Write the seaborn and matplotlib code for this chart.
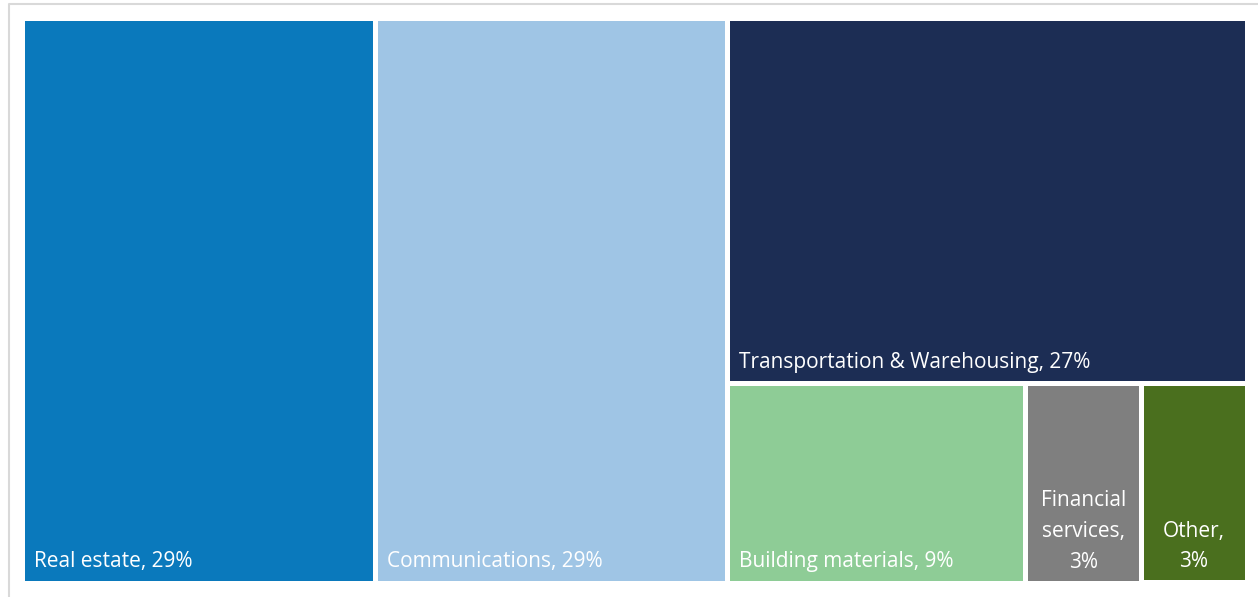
import matplotlib.pyplot as plt
import matplotlib.patches as mpatches
import matplotlib.lines as mlines
import pandas as pd
import seaborn as sns

# shares of the total
sectors = ["Real estate", "Communications", "Transportation & Warehousing",
           "Building materials", "Financial services", "Other"]
shares = [28.6, 28.4, 27.2, 8.5, 3.3, 3.0]
labels = ["29%", "29%", "27%", "9%", "3%", "3%"]
colors = ["#0a79bc", "#9fc5e5", "#1c2d54", "#8ecc96", "#7f7f7f", "#4a6f1e"]
# how the labels wrap inside the narrow cells
wrapped = ["Real estate, 29%", "Communications, 29%", "Transportation & Warehousing, 27%",
           "Building materials, 9%", "Financial\nservices,\n3%", "Other,\n3%"]

df = pd.DataFrame({"sector": sectors, "share": shares, "pct": labels,
                   "color": colors, "text": wrapped})


def worst(row, side):
    s = sum(row)
    return max(max(side * side * r / (s * s), s * s / (side * side * r)) for r in row)


def squarify(values, x, y, w, h):
    # classic squarified treemap, values already scaled to area w*h
    rects = []
    values = list(values)
    while values:
        side = min(w, h)
        row = [values.pop(0)]
        while values and worst(row + [values[0]], side) <= worst(row, side):
            row.append(values.pop(0))
        s = sum(row)
        if w >= h:
            cw = s / h
            cy = y
            for r in row:
                rects.append((x, cy, cw, r / cw))
                cy += r / cw
            x += cw
            w -= cw
        else:
            ch = s / w
            cx = x
            for r in row:
                rects.append((cx, y, r / ch, ch))
                cx += r / ch
            y += ch
            h -= ch
    return rects


W, H = 1225.0, 565.0
total = df["share"].sum()
areas = [v / total * W * H for v in df["share"]]
rects = squarify(areas, 0, 0, W, H)

sns.set_theme(style="white")
plt.rcParams["font.family"] = ["Open Sans", "DejaVu Sans"]

fig = plt.figure(figsize=(12.58, 5.97), dpi=100)
# light grey chart frame (left and top edges only show)
fig.lines.append(mlines.Line2D([8.5 / 1258, 8.5 / 1258, 1.0], [0.0, 1 - 3.5 / 597, 1 - 3.5 / 597],
                               transform=fig.transFigure, color="#d9d9d9", linewidth=1.5))
ax = fig.add_axes([21.5 / 1258, 1 - 582.5 / 597, 1225 / 1258, 565 / 597])
ax.set_xlim(0, W)
ax.set_ylim(H, 0)
ax.axis("off")

for (x, y, w, h), row in zip(rects, df.itertuples()):
    ax.add_patch(mpatches.Rectangle((x, y), w, h, facecolor=row.color,
                                    edgecolor="white", linewidth=3.6))
    if "\n" in row.text:
        ax.text(x + w / 2, y + h - 10, row.text, color="white",
                fontsize=15, ha="center", va="bottom", linespacing=1.6)
    else:
        ax.text(x + 12, y + h - 10, row.text, color="white",
                fontsize=15, ha="left", va="bottom")

fig.savefig("out.png", dpi=100)
